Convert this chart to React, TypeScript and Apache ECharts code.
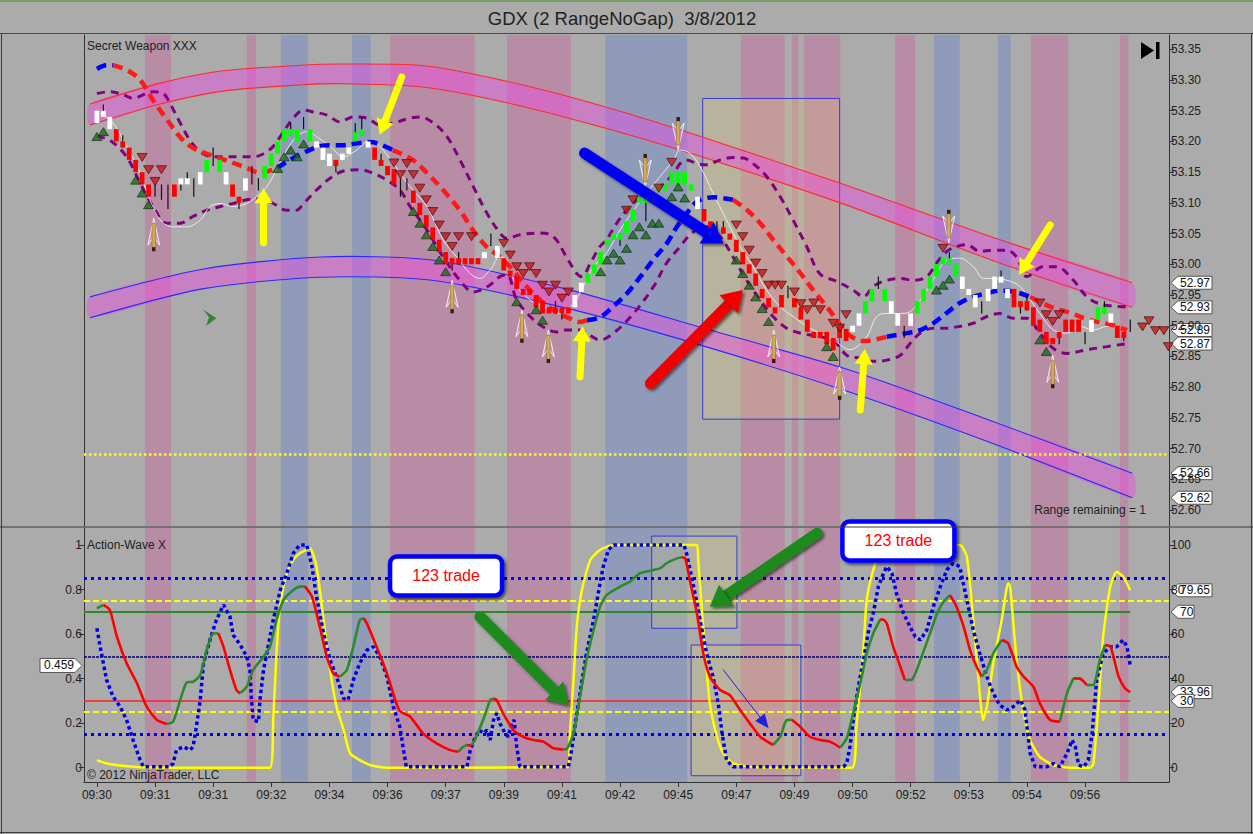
import React, { useEffect, useRef } from "react";
import * as echarts from "echarts";

const FONT = "'Liberation Sans', Arial, sans-serif";

// ---------- axes / ticks ----------
const timeLabels = ["09:30","09:31","09:31","09:32","09:34","09:36","09:37","09:39","09:41","09:42","09:45","09:47","09:49","09:50","09:52","09:53","09:54","09:56"];
const timeTickBars = [0,9,18,27,36,45,54,63,72,81,90,99,108,117,126,135,144,153];
const priceTicks = [52.6,52.65,52.7,52.75,52.8,52.85,52.9,52.95,53.0,53.05,53.1,53.15,53.2,53.25,53.3,53.35];
const waveTicks = [0,0.2,0.4,0.6,0.8,1];
const pctTicks = [0,20,40,60,80,100];

// ---------- range bars (2 RangeNoGap) ----------
const opens = [
  53.23,53.24,53.22,53.22,53.20,53.19,53.17,53.15,53.13,53.12,
  53.12,53.11,53.13,53.13,53.13,53.13,53.13,53.15,53.18,53.15,
  53.13,53.13,53.11,53.12,53.14,53.13,53.14,53.16,53.18,53.20,
  53.21,53.20,53.23,53.20,53.19,53.17,53.16,53.17,53.17,53.18,
  53.20,53.21,53.19,53.19,53.17,53.16,53.155,53.13,53.13,53.12,
  53.10,53.08,53.06,53.04,53.02,53.01,53.01,53.01,53.01,53.01,
  53.01,53.04,53.01,53.01,52.99,52.98,52.96,52.96,52.95,52.94,
  52.93,52.93,52.93,52.93,52.93,52.955,52.97,52.985,53.00,53.03,
  53.04,53.04,53.05,53.07,53.10,53.10,53.10,53.12,53.12,53.13,
  53.13,53.13,53.12,53.09,53.09,53.07,53.06,53.06,53.05,53.04,
  53.02,53.00,52.985,52.96,52.945,52.93,52.95,52.955,52.945,52.93,
  52.91,52.89,52.89,52.89,52.88,52.90,52.895,52.89,52.90,52.92,
  52.94,52.97,52.94,52.92,52.90,52.89,52.90,52.92,52.94,52.96,
  52.98,53.00,53.00,52.98,52.96,52.95,52.93,52.935,52.94,52.96,
  52.97,52.945,52.96,52.94,52.94,52.93,52.91,52.89,52.88,52.89,
  52.91,52.91,52.91,52.88,52.89,52.91,52.92,52.905,52.90,52.89,52.90,
];
const closes = [
  53.25,53.25,53.24,53.20,53.19,53.17,53.15,53.13,53.11,53.12,
  53.12,53.11,53.11,53.14,53.14,53.13,53.15,53.17,53.18,53.17,
  53.15,53.11,53.10,53.14,53.14,53.13,53.16,53.18,53.20,53.22,
  53.22,53.22,53.23,53.22,53.20,53.19,53.18,53.16,53.18,53.19,
  53.215,53.22,53.20,53.17,53.16,53.145,53.13,53.13,53.13,53.10,
  53.08,53.06,53.04,53.02,53.00,53.00,53.00,53.00,53.00,53.00,
  53.02,53.04,53.03,52.99,52.98,52.96,52.95,52.95,52.93,52.92,
  52.92,52.92,52.92,52.92,52.95,52.97,52.985,53.00,53.02,53.04,
  53.05,53.05,53.07,53.09,53.11,53.11,53.11,53.13,53.13,53.15,
  53.15,53.15,53.13,53.11,53.07,53.05,53.06,53.05,53.04,53.02,
  53.00,52.985,52.965,52.945,52.93,52.92,52.93,52.955,52.93,52.91,
  52.89,52.88,52.88,52.87,52.86,52.88,52.875,52.90,52.92,52.94,
  52.96,52.97,52.96,52.94,52.92,52.89,52.92,52.94,52.96,52.98,
  53.00,53.01,53.01,53.00,52.98,52.96,52.95,52.935,52.96,52.98,
  52.98,52.96,52.93,52.93,52.925,52.90,52.89,52.87,52.87,52.88,
  52.89,52.89,52.89,52.88,52.91,52.93,52.93,52.92,52.88,52.88,52.90,
];
// W = white up bar, G = green up bar, R = red down bar, D = doji
const barKinds = "WWWRRRRRRD DDRWWDWGDG WRRWDDGGGG GGDGWWWRWW GGWRRRRDDR RRRRRRRRRR WDWRRRRRRR RRRRWWGGGG GGGGGGGGGG GGGWRRDRRR RRRRRRRDRR RRRRRRRWWG GDGWWDWGGG GGGGWWWDWW WWRRRRRRRR RRRDWGGWRRD".replace(/\s+/g, "").split("");
// [bar, high, low] for bars with visible wicks
const wicks = [
  [1,53.26,53.24],[4,53.21,53.19],[9,53.13,53.11],[10,53.13,53.105],[11,53.13,53.09],[13,53.14,53.12],[14,53.15,53.13],
  [15,53.14,53.11],[18,53.19,53.16],[22,53.11,53.09],[24,53.16,53.13],[25,53.14,53.12],[30,53.23,53.21],[32,53.24,53.22],
  [37,53.17,53.15],[40,53.23,53.20],[41,53.24,53.21],[44,53.18,53.16],[47,53.14,53.11],[48,53.14,53.12],[55,53.01,52.99],
  [56,53.02,53.00],[61,53.05,53.03],[71,52.94,52.92],[72,52.93,52.91],[81,53.05,53.03],[85,53.11,53.07],[96,53.07,53.05],
  [97,53.07,53.05],[107,52.965,52.945],[121,52.98,52.96],[125,52.90,52.88],[132,53.02,53.00],[137,52.94,52.92],
  [140,52.99,52.97],[143,52.94,52.92],[144,52.95,52.925],[149,52.89,52.87],[153,52.89,52.87],[156,52.94,52.92],
  [159,52.89,52.875],[160,52.91,52.89],
];

// ---------- upper panel indicators ----------
// [bar, price, rising(1)/falling(0)]
const maLine = [
  [0,53.318,1],[1.5,53.324,1],[2.5,53.324,0],[4.7,53.316,0],[6.7,53.300,0],[8.7,53.267,0],[10.9,53.235,0],[12.9,53.207,0],
  [14.9,53.189,0],[17,53.180,0],[19,53.173,0],[21.1,53.165,0],[23.2,53.157,0],[25.2,53.149,0],[27.9,53.157,1],[29.9,53.170,1],
  [31.9,53.181,1],[34.1,53.191,1],[36.1,53.194,1],[38.1,53.194,1],[40.3,53.197,1],[42.3,53.199,1],[45.8,53.186,0],[48.9,53.170,0],
  [51.1,53.149,0],[53.6,53.121,0],[56.2,53.088,0],[58.2,53.056,0],[60.4,53.028,0],[62.4,53.012,0],[64.4,52.991,0],[66.6,52.963,0],
  [68.6,52.942,0],[70.6,52.926,0],[72.8,52.914,0],[74.8,52.906,0],[75.9,52.909,1],[77.9,52.914,1],[79.9,52.931,1],[82.1,52.953,1],
  [84.1,52.979,1],[86.1,53.007,1],[88.3,53.035,1],[89.8,53.061,1],[91.4,53.084,1],[92.9,53.102,1],[94.5,53.108,1],[95.6,53.109,1],
  [98.5,53.105,0],[100.7,53.088,0],[102.7,53.067,0],[104.7,53.040,0],[106.9,53.012,0],[108.9,52.986,0],[110.9,52.958,0],[113,52.931,0],
  [114.6,52.909,0],[116.1,52.888,0],[117.7,52.877,0],[118.7,52.875,0],[122.3,52.882,1],[125.4,52.888,1],[127.5,52.893,1],[129.5,52.904,1],
  [131.6,52.921,1],[133.6,52.937,1],[135.7,52.947,1],[137.8,52.953,1],[139.8,52.957,1],[141,52.957,1],[144.5,52.947,0],[147.6,52.931,0],
  [150.7,52.921,0],[153.8,52.909,0],[156.9,52.902,0],[159.5,52.893,0],
];
const upperEnvelope = [
  [0,53.278],[2,53.281],[4.1,53.276],[5.6,53.270],[7.2,53.276],[8.7,53.281],[10.3,53.278],[11.3,53.262],[12.9,53.230],[14.4,53.202],
  [16,53.183],[18,53.175],[20.1,53.175],[22.2,53.175],[24.2,53.175],[25.8,53.180],[27.3,53.192],[28.9,53.216],[30.4,53.238],[32,53.251],
  [33.5,53.248],[35.6,53.243],[37.6,53.232],[39.7,53.240],[41.8,53.238],[43.8,53.227],[45.9,53.230],[48.5,53.238],[50,53.240],[52.1,53.230],
  [54.2,53.208],[56.2,53.170],[58.3,53.126],[60.4,53.083],[62.4,53.051],[63.5,53.042],[65.5,53.048],[68.6,53.051],[70.7,53.045],[72.7,53.012],
  [74.3,52.985],[75.1,52.980],[76.4,53.002],[77.9,53.029],[78.9,53.040],[80.5,53.067],[82,53.088],[83.6,53.105],[85.1,53.116],[87.2,53.126],
  [89.3,53.148],[90.3,53.164],[91.3,53.170],[92.9,53.164],[94.4,53.162],[96.5,53.170],[98.5,53.174],[100.1,53.173],[101.6,53.164],[103.7,53.143],
  [105.8,53.110],[107.8,53.072],[109.9,53.029],[111.9,52.985],[114.6,52.972],[117.1,52.958],[118.7,52.947],[120.2,52.964],[122.3,52.974],[124.4,52.977],
  [126.4,52.974],[128.5,52.980],[130,53.002],[131.6,53.021],[133.1,53.029],[134.7,53.032],[136.7,53.021],[138.8,53.023],[140.9,53.023],[142.4,53.012],
  [144,52.980],[146.5,52.996],[148.6,52.996],[151.2,52.974],[153.3,52.947],[155.8,52.934],[159.5,52.931],
];
const lowerEnvelope = [
  [0,53.208],[2,53.202],[4.6,53.175],[6.7,53.132],[8.7,53.094],[10.8,53.067],[12.9,53.067],[14.9,53.078],[17,53.088],[19.1,53.094],
  [21.1,53.099],[23.2,53.105],[25.3,53.107],[27.3,53.099],[29.4,53.088],[30.9,53.088],[32,53.099],[34,53.121],[36.1,53.140],[38.2,53.152],
  [40.7,53.154],[42.8,53.148],[44.9,53.137],[46.9,53.121],[48.5,53.094],[51.1,53.056],[53.6,53.012],[56.2,52.974],[58.3,52.955],[60.4,52.963],
  [62.4,52.980],[63.5,52.983],[65,52.942],[67.1,52.915],[69.1,52.898],[71.2,52.890],[72.7,52.893],[74.8,52.893],[75.8,52.888],[77.9,52.877],
  [80,52.888],[83.1,52.920],[86.2,52.964],[88.2,53.002],[90.3,53.029],[91.8,53.048],[92.9,53.056],[94.4,53.061],[96.5,53.045],[98.5,53.012],
  [100.6,52.974],[102.7,52.942],[104.7,52.915],[106.8,52.896],[108.9,52.888],[112,52.882],[114,52.877],[116.1,52.852],[118.2,52.847],[120.2,52.842],
  [122.3,52.844],[124.4,52.852],[125.9,52.871],[127.5,52.888],[129.5,52.896],[131.6,52.896],[133.6,52.899],[135.7,52.904],[137.8,52.915],[139.8,52.920],
  [141.9,52.912],[144,52.912],[146,52.888],[148.1,52.863],[150.2,52.855],[153.3,52.861],[156.4,52.866],[159.5,52.871],
];
const fastLine = [
  [0.5,53.246],[2.5,53.230],[4.6,53.192],[6.7,53.148],[8.2,53.105],[9.8,53.072],[11.8,53.061],[13.9,53.061],[16,53.072],[17.5,53.094],
  [19.1,53.099],[21.1,53.094],[23.2,53.099],[24.7,53.110],[26.3,53.126],[27.8,53.154],[29.4,53.186],[30.9,53.208],[32.5,53.216],[34,53.208],
  [36.1,53.192],[38.2,53.175],[40.2,53.186],[42.3,53.202],[43.8,53.192],[45.9,53.164],[48.5,53.126],[51.1,53.094],[53.6,53.040],[55.7,53.012],
  [57.8,52.985],[59.3,52.977],[60.9,52.991],[62.4,53.012],[63.5,53.007],[65,52.964],[67.1,52.942],[69.1,52.931],[71.7,52.920],[73.8,52.937],
  [75.3,52.964],[76.9,52.996],[78.9,53.018],[81,53.056],[83.1,53.088],[85.1,53.116],[87.2,53.143],[89.3,53.170],[90.3,53.186],[91.8,53.181],
  [93.4,53.159],[95.4,53.116],[97.5,53.072],[99.6,53.029],[101.6,52.996],[103.7,52.958],[105.8,52.931],[107.8,52.915],[109.9,52.899],[111.9,52.888],
  [114,52.877],[116.6,52.861],[119.2,52.882],[120.7,52.915],[122.3,52.920],[124.4,52.920],[125.9,52.923],[127.5,52.942],[129.5,52.975],[131.6,53.007],
  [133.6,53.010],[135.7,52.996],[137.3,52.977],[138.8,52.977],[140.9,52.974],[142.9,52.964],[146,52.920],[148.1,52.893],[150.2,52.888],[152.2,52.899],
  [154.3,52.893],[156.4,52.899],[159.5,52.891],
];
const upperBandTop = [[-1.07,53.261],[9.8,53.295],[19.5,53.315],[31.4,53.324],[37.8,53.326],[50,53.324],[61.3,53.303],[74.8,53.268],[90.3,53.219],[115.1,53.132],[139.8,53.040],[160.3,52.97]];
const upperBandBottom = [[-1.07,53.227],[9.8,53.261],[19.5,53.282],[31.4,53.292],[37.8,53.294],[50,53.289],[61.3,53.268],[74.8,53.233],[90.3,53.186],[115.1,53.100],[139.8,53.002],[160.3,52.93]];
const lowerBandTop = [[-1.07,52.947],[16.3,52.992],[34.5,53.012],[51.9,53.007],[73.3,52.958],[94.9,52.893],[116.5,52.828],[138,52.747],[160.3,52.66]];
const lowerBandBottom = [[-1.07,52.913],[16.3,52.960],[34.5,52.979],[51.9,52.974],[73.3,52.927],[94.9,52.864],[116.5,52.792],[138,52.711],[160.3,52.62]];

const buyTriangles = [
  [0,53.208],[1,53.216],[6,53.137],[7,53.116],[8,53.097],[28,53.156],[29,53.175],[30,53.186],[31,53.175],[32,53.196],
  [49,53.086],[50,53.067],[51,53.048],[52,53.029],[53,53.007],[54,52.988],[65,52.939],[68,52.926],[69,52.909],[78,52.988],
  [79,53.007],[80,53.018],[81,53.007],[82,53.026],[83,53.048],[84,53.061],[85,53.048],[86,53.067],[87,53.067],[89,53.110],
  [90,53.126],[91,53.108],[99,53.007],[100,52.985],[101,52.966],[102,52.947],[103,52.928],[104,52.907],[113,52.866],[114,52.850],
  [130,52.958],[131,52.966],[132,52.976],[146,52.877],[147,52.858],
];
const sellTriangles = [
  [7,53.174],[8,53.154],[9,53.135],[10,53.154],[46,53.165],[47,53.146],[48,53.164],[49,53.146],[50,53.124],[51,53.105],
  [52,53.086],[53,53.064],[54,53.045],[55,53.029],[56,53.045],[58,53.045],[63,53.034],[64,53.015],[65,52.996],[66,52.985],
  [67,52.996],[68,52.985],[69,52.966],[70,52.955],[71,52.966],[72,52.945],[73,52.955],[82,53.088],[83,53.105],[87,53.124],
  [89,53.166],[99,53.064],[100,53.045],[101,53.023],[102,53.002],[103,52.985],[104,52.966],[105,52.966],[106,52.966],[108,52.955],
  [109,52.936],[110,52.926],[111,52.937],[112,52.926],[114,52.904],[115,52.896],[116,52.918],[131,53.026],[146,52.937],[147,52.918],
  [148,52.907],[149,52.918],[161.9,52.898],[162.9,52.908],[163.9,52.892],[165.2,52.892],[165.9,52.866],
];
// [bar, tip price, direction]
const signalArrows = [
  [8.8,53.075,1],[55,52.974,1],[65.8,52.926,1],[69.9,52.893,1],[104.8,52.893,1],[115,52.833,1],[148,52.852,1],
  [84.9,53.126,-1],[90,53.186,-1],[131.9,53.035,-1],
];
const entryMarker = [[17.5,52.913]];
const pinkStrips = [[7.45,11.47],[23.2,24.6],[45.4,58.5],[63.5,73.4],[99.7,106.5],[107.6,108.6],[109.5,115.1],[123.6,126.7],[144.6,150.4],[158.4,159.7]];
const blueStrips = [[28.5,32.7],[39.5,42.4],[78.7,91.4],[129.6,133.6],[139.5,141.5]];
const targetLine = 52.69;

// drawing objects [bar1, value1, bar2, value2]
const yellowArrows = [[25.8,53.035,25.8,53.124],[47.2,53.305,43.8,53.211],[74.8,52.817,75.2,52.899],[118.2,52.763,118.9,52.862],[147.6,53.064,142.8,52.983]];
const blueArrow = [[75.5,53.181,97.0,53.034]];
const redArrow = [[85.7,52.806,100.0,52.958]];
const greenArrows = [[59.3,0.678,73.0,0.282],[111.5,1.053,94.9,0.723]];
const smallArrow = [[97.0,0.439,104.0,0.177]];
const upperBoxes = [[93.8,53.27,115.0,52.748]];
const lowerBoxes = [[85.9,1.04,99.1,0.626],[92.0,0.551,109.0,-0.036]];
const callouts = [[54.06,0.861],[124.1,1.018]];

// ---------- lower panel ----------
const waveLine = [
  [0,0.716],[1,0.731],[2,0.708],[3.1,0.588],[4.6,0.469],[6.2,0.379],[7.7,0.274],[9.3,0.214],[10.8,0.196],[11.8,0.207],
  [12.9,0.304],[13.9,0.383],[14.9,0.386],[16,0.416],[17,0.528],[18,0.603],[18.8,0.604],[19.6,0.543],[20.6,0.439],[21.6,0.349],
  [22.2,0.334],[23.2,0.364],[24.2,0.439],[25.8,0.499],[26.8,0.543],[27.8,0.663],[28.9,0.753],[30.4,0.798],[31.4,0.813],[32.2,0.814],
  [33.3,0.768],[34.5,0.633],[35.6,0.499],[36.6,0.424],[37.6,0.409],[38.7,0.439],[39.7,0.543],[40.7,0.663],[41.3,0.671],[41.8,0.648],
  [43.3,0.543],[44.9,0.424],[46.2,0.304],[46.9,0.254],[48.5,0.229],[50.5,0.154],[52.6,0.109],[54.7,0.079],[56,0.072],[56.7,0.094],
  [57.3,0.102],[58,0.099],[58.5,0.124],[59.8,0.214],[60.9,0.304],[61.4,0.311],[61.9,0.304],[62.9,0.244],[64.5,0.169],[66,0.139],
  [67.6,0.124],[69.1,0.117],[70.7,0.087],[72.2,0.082],[72.7,0.083],[73.8,0.154],[74.8,0.319],[75.8,0.484],[76.9,0.618],[77.9,0.723],
  [78.9,0.775],[81,0.813],[82.5,0.835],[84.1,0.873],[86.2,0.888],[87.2,0.895],[88.2,0.918],[89.8,0.94],[90.6,0.945],[91.1,0.94],
  [91.8,0.843],[92.9,0.693],[93.9,0.513],[94.9,0.409],[96.5,0.349],[98,0.326],[99.6,0.259],[101.1,0.199],[102.7,0.139],[104.7,0.102],
  [105.8,0.139],[106.8,0.214],[107.6,0.215],[108.9,0.184],[110.4,0.139],[112,0.124],[113.5,0.117],[115.1,0.09],[116.1,0.132],[117.1,0.244],
  [118.2,0.379],[119.2,0.513],[120.2,0.603],[121.3,0.666],[121.8,0.665],[122.3,0.648],[123.3,0.543],[124.4,0.454],[125.1,0.394],[126.2,0.396],
  [127.5,0.484],[129,0.603],[130,0.686],[131.1,0.746],[132.1,0.775],[133.1,0.723],[134.2,0.633],[135.2,0.528],[136.2,0.454],[137,0.409],
  [137.8,0.439],[138.8,0.513],[140.1,0.573],[141.1,0.558],[142.4,0.454],[143.5,0.409],[145,0.364],[146,0.289],[147.6,0.214],[149.1,0.207],
  [150.2,0.334],[151.2,0.401],[152.2,0.4],[153.3,0.371],[154.3,0.372],[155.3,0.484],[156.1,0.551],[156.9,0.545],[157.4,0.499],[158.2,0.409],
  [159.2,0.356],[160,0.3396],
];
const dotLine = [
  [0,0.626],[0.5,0.543],[1,0.469],[1.5,0.394],[2.5,0.319],[3.6,0.274],[4.6,0.214],[5.6,0.124],[6.7,0.034],[7.2,0.004],
  [11.3,0.004],[11.8,0.019],[12.3,0.079],[13.4,0.094],[14.4,0.079],[14.9,0.094],[15.4,0.184],[16,0.304],[16.5,0.469],[17.5,0.573],
  [18.5,0.663],[19.6,0.731],[20.6,0.678],[21.1,0.596],[22.2,0.551],[23.2,0.499],[23.7,0.439],[23.9,0.319],[24.2,0.214],[25,0.207],
  [25.3,0.319],[25.8,0.439],[26.3,0.513],[27.3,0.663],[28.4,0.798],[29.4,0.873],[30.4,0.963],[31.4,1],[32.5,1],[33.3,0.903],
  [34,0.768],[35.1,0.603],[36.1,0.484],[37.1,0.409],[38.2,0.311],[38.9,0.304],[39.7,0.394],[40.7,0.469],[41.8,0.528],[42.8,0.543],
  [43.8,0.499],[44.9,0.409],[45.9,0.274],[46.9,0.184],[47.4,0.094],[47.9,0.004],[57.3,0.004],[57.8,0.079],[58.6,0.139],[59.2,0.169],
  [59.9,0.154],[60.4,0.169],[60.9,0.124],[61.4,0.214],[61.9,0.244],[62.4,0.199],[63.2,0.154],[63.7,0.139],[64.2,0.199],[64.6,0.214],
  [65,0.094],[65.5,0.004],[73,0.004],[73.5,0.079],[74,0.184],[74.8,0.334],[75.8,0.513],[76.9,0.663],[77.9,0.828],[78.4,0.903],
  [79.2,0.978],[80,1],[90.9,1],[91.3,0.963],[92.4,0.813],[93.4,0.663],[94.4,0.513],[95.4,0.409],[96.2,0.289],[96.8,0.154],
  [97.5,0.034],[98.5,0.004],[115.6,0.004],[116.1,0.019],[116.6,0.094],[117.1,0.214],[117.9,0.364],[118.7,0.484],[119.4,0.603],[120.2,0.693],
  [121,0.813],[121.8,0.873],[122.3,0.903],[123.1,0.873],[123.8,0.783],[124.9,0.693],[125.9,0.633],[126.7,0.588],[127.5,0.573],[128.5,0.618],
  [129.5,0.723],[130.6,0.813],[131.6,0.888],[132.6,0.918],[133.6,0.903],[134.7,0.753],[135.7,0.618],[136.7,0.513],[137.8,0.409],[138.8,0.334],
  [139.8,0.281],[140.9,0.259],[141.9,0.274],[143,0.304],[143.7,0.259],[144.5,0.064],[145.3,0.004],[147.1,0.004],[148.1,0.019],[149.1,0.004],
  [150.2,0.064],[151,0.124],[151.5,0.094],[152,0.012],[152.8,0.004],[153.5,0.034],[154.1,0.154],[154.8,0.394],[155.8,0.513],[156.9,0.543],
  [157.9,0.543],[158.9,0.573],[159.5,0.543],[160,0.459],
];
const stochLine = [
  [0,3.4],[1.5,1.9],[5.6,0.4],[10.8,0],[26.8,0],[27.3,21.4],[27.8,51.3],[28.4,73.8],[29.4,87.3],[30.4,93.3],
  [31.4,96.3],[33,98.5],[34,90.3],[35.1,66.3],[36.1,43.9],[37.1,27.4],[38.2,16.9],[39.2,6.4],[40.7,3.4],[42.3,1.2],
  [44.4,0.1],[46.9,0],[73,0.4],[73.2,13.9],[73.8,39.4],[74.3,63.3],[75.1,79.8],[76.4,93.3],[77.9,97.8],[80,100],
  [92.9,100],[93.1,93.3],[93.6,73.8],[94.2,51.3],[94.9,28.9],[96,13.9],[97,6.4],[98.5,1.9],[101.1,0.4],[103.7,0],
  [116.9,0],[117.6,18.4],[118.7,54.3],[119.2,75.3],[120.2,88.8],[121.3,97],[122.5,99],[130,99],[133.6,100],[134.7,94.8],
  [135.7,66.3],[136.7,33.4],[137.2,21.4],[137.8,27.4],[138.8,46.9],[140.1,66.3],[141.1,82.8],[141.4,81.3],[142.4,48.4],[143.5,24.4],
  [144.5,12.4],[146,4.9],[148.1,1.2],[150.7,0],[153.8,0],[154.3,1.9],[155.1,28.9],[155.8,58.8],[156.9,81.3],[157.9,88],
  [158.9,85.8],[160,79.65],
];
const waveLevels = { outerHi: 0.85, outerLo: 0.15, innerHi: 0.75, innerLo: 0.25, buy: 0.7, sell: 0.3, mid: 0.5 };

// ---------- helpers ----------
const PINK = "rgba(218,68,151,0.30)";
const BLUE = "rgba(78,118,218,0.30)";

function runsByFlag(pts: number[][]) {
  const segs: { flag: number; pts: number[][] }[] = [];
  let cur = [pts[0]];
  let flag = pts[0][2];
  for (let k = 1; k < pts.length; k++) {
    if (pts[k][2] === flag) cur.push(pts[k]);
    else {
      cur.push(pts[k]);
      segs.push({ flag, pts: cur });
      cur = [pts[k]];
      flag = pts[k][2];
    }
  }
  segs.push({ flag, pts: cur });
  return segs;
}
function runsByDirection(pts: number[][]) {
  const segs: { flag: number; pts: number[][] }[] = [];
  let cur = [pts[0]];
  let flag = -1;
  for (let k = 1; k < pts.length; k++) {
    const d = pts[k][1] >= pts[k - 1][1] ? 1 : 0;
    if (flag === -1 || d === flag) { cur.push(pts[k]); flag = d; }
    else { segs.push({ flag, pts: cur }); cur = [pts[k - 1], pts[k]]; flag = d; }
  }
  segs.push({ flag, pts: cur });
  return segs;
}

function arrowSeries(items: number[][], xi: number, yi: number, color: string, w: number, hl: number, hw: number, shadow: boolean) {
  return {
    type: "custom", xAxisIndex: xi, yAxisIndex: yi, z: 20, silent: true,
    data: items, encode: { x: [0, 2], y: [1, 3] },
    renderItem: (params: any, api: any) => {
      const a = api.coord([api.value(0), api.value(1)]);
      const b = api.coord([api.value(2), api.value(3)]);
      const dx = b[0] - a[0], dy = b[1] - a[1];
      const len = Math.hypot(dx, dy) || 1;
      const ux = dx / len, uy = dy / len, nx = -uy, ny = ux;
      const bx = b[0] - ux * hl, by = b[1] - uy * hl;
      const sh = shadow ? { shadowBlur: 3, shadowColor: "rgba(0,0,0,0.55)", shadowOffsetX: 2, shadowOffsetY: 2 } : {};
      return {
        type: "group",
        children: [
          { type: "line", shape: { x1: a[0], y1: a[1], x2: bx + ux, y2: by + uy }, style: { stroke: color, lineWidth: w, lineCap: "round", ...sh } },
          { type: "polygon", shape: { points: [[b[0], b[1]], [bx + nx * hw / 2, by + ny * hw / 2], [bx - nx * hw / 2, by - ny * hw / 2]] }, style: { fill: color, ...sh } },
        ],
      };
    },
  };
}

function stripSeries(xi: number, yi: number, yRef: number) {
  const data = [...pinkStrips.map((s) => [s[0], s[1], 0]), ...blueStrips.map((s) => [s[0], s[1], 1])];
  return {
    type: "custom", xAxisIndex: xi, yAxisIndex: yi, z: 0, silent: true, data, encode: { x: [0, 1] },
    renderItem: (params: any, api: any) => {
      const x1 = api.coord([api.value(0), yRef])[0];
      const x2 = api.coord([api.value(1), yRef])[0];
      const cs = params.coordSys;
      return { type: "rect", shape: { x: x1, y: cs.y, width: x2 - x1, height: cs.height }, style: { fill: api.value(2) === 0 ? PINK : BLUE } };
    },
  };
}

function boxSeries(items: number[][], xi: number, yi: number) {
  return {
    type: "custom", xAxisIndex: xi, yAxisIndex: yi, z: 1, silent: true, data: items, encode: { x: [0, 2], y: [1, 3] },
    renderItem: (params: any, api: any) => {
      const a = api.coord([api.value(0), api.value(1)]);
      const b = api.coord([api.value(2), api.value(3)]);
      return { type: "rect", shape: { x: a[0], y: a[1], width: b[0] - a[0], height: b[1] - a[1] }, style: { fill: "rgba(232,208,110,0.22)", stroke: "#3a3ad6", lineWidth: 1 } };
    },
  };
}

function bandSeries(top: number[][], bot: number[][], edge: string) {
  return {
    type: "custom", xAxisIndex: 0, yAxisIndex: 0, z: 2, silent: true, data: [[top[0][0], top[0][1]]], encode: { x: 0, y: 1 },
    renderItem: (params: any, api: any) => {
      const t = top.map((p) => api.coord(p));
      const b = bot.map((p) => api.coord(p));
      return {
        type: "group",
        children: [
          { type: "polygon", shape: { points: [...t, ...b.slice().reverse()], smooth: 0.25 }, style: { fill: "rgba(248,62,236,0.40)" } },
          { type: "polyline", shape: { points: t, smooth: 0.25 }, style: { stroke: edge, lineWidth: 1.1, fill: null } },
          { type: "polyline", shape: { points: b, smooth: 0.25 }, style: { stroke: edge, lineWidth: 1.1, fill: null } },
        ],
      };
    },
  };
}

function line(data: number[][], xi: number, yi: number, color: string, width: number, type: any, smooth: number, z: number) {
  return {
    type: "line", xAxisIndex: xi, yAxisIndex: yi, z, silent: true, showSymbol: false, symbol: "none", smooth,
    data: data.map((p) => [p[0], p[1]]),
    lineStyle: { color, width, type, cap: "butt" },
  };
}

function buildOption() {
  const candleData = opens.map((o, i) => {
    const c = closes[i];
    const w = wicks.find((k) => k[0] === i);
    return [i, o, c, w ? w[2] : Math.min(o, c), w ? w[1] : Math.max(o, c)];
  });
  const colors: any = { R: "#ff0000", W: "#ffffff", G: "#00ff00" };

  const series: any[] = [];
  series.push(stripSeries(0, 0, 53));
  series.push(stripSeries(1, 2, 0.5));
  series.push(boxSeries(upperBoxes, 0, 0));
  series.push(boxSeries(lowerBoxes, 1, 2));
  series.push(bandSeries(upperBandTop, upperBandBottom, "#ff2a2a"));
  series.push(bandSeries(lowerBandTop, lowerBandBottom, "#2a2aff"));
  series.push({
    type: "line", xAxisIndex: 0, yAxisIndex: 0, data: [], z: 3, silent: true,
    markLine: { silent: true, symbol: "none", label: { show: false }, animation: false,
      lineStyle: { color: "#ffff00", width: 2.5, type: [2.5, 2.5] }, data: [{ yAxis: targetLine }] },
  });
  series.push(line(upperEnvelope, 0, 0, "#800080", 3, [8, 6], 0.35, 4));
  series.push(line(lowerEnvelope, 0, 0, "#800080", 3, [8, 6], 0.35, 4));
  series.push(line(fastLine, 0, 0, "rgba(245,245,245,0.85)", 1, "solid", 0.35, 4));
  runsByFlag(maLine).forEach((s) => series.push(line(s.pts, 0, 0, s.flag ? "#0000ff" : "#ff1a1a", 4.5, [10, 6], 0.35, 5)));
  series.push({
    type: "custom", xAxisIndex: 0, yAxisIndex: 0, z: 6, silent: true, data: candleData, encode: { x: 0, y: [1, 2, 3, 4] },
    renderItem: (params: any, api: any) => {
      const i = api.value(0), o = api.value(1), c = api.value(2), lo = api.value(3), hi = api.value(4);
      const k = barKinds[params.dataIndex];
      const top = api.coord([i, Math.max(o, c)]);
      const bot = api.coord([i, Math.min(o, c)]);
      const hp = api.coord([i, hi]);
      const lp = api.coord([i, lo]);
      const ch: any[] = [];
      if (k === "D" || hi > Math.max(o, c) + 1e-9 || lo < Math.min(o, c) - 1e-9) {
        ch.push({ type: "line", shape: { x1: top[0], y1: hp[1], x2: top[0], y2: lp[1] }, style: { stroke: "#111", lineWidth: 1.2 } });
      }
      if (k !== "D") {
        ch.push({ type: "rect", shape: { x: top[0] - 2.4, y: top[1], width: 4.8, height: Math.max(bot[1] - top[1], 1.5) }, style: { fill: colors[k] } });
      }
      return { type: "group", children: ch };
    },
  });
  series.push({
    type: "scatter", xAxisIndex: 0, yAxisIndex: 0, z: 7, silent: true, data: buyTriangles, symbol: "triangle", symbolSize: [10, 8],
    itemStyle: { color: "#1d6b1d", borderColor: "#072a07", borderWidth: 0.8 },
  });
  series.push({
    type: "scatter", xAxisIndex: 0, yAxisIndex: 0, z: 7, silent: true, data: sellTriangles, symbol: "triangle", symbolRotate: 180, symbolSize: [10, 8],
    itemStyle: { color: "#c81818", borderColor: "#3a0606", borderWidth: 0.8 },
  });
  series.push({
    type: "custom", xAxisIndex: 0, yAxisIndex: 0, z: 8, silent: true, data: signalArrows, encode: { x: 0, y: 1 },
    renderItem: (params: any, api: any) => {
      const p = api.coord([api.value(0), api.value(1)]);
      const s = api.value(2) > 0 ? 1 : -1;
      const x = p[0], t = p[1];
      const Y = (d: number) => t + s * d;
      return {
        type: "group",
        children: [
          { type: "polygon", shape: { points: [[x, Y(0)], [x + 6, Y(27)], [x, Y(19)], [x - 6, Y(27)]] }, style: { fill: "rgba(255,255,255,0.18)", stroke: "#f4f4f4", lineWidth: 0.9 } },
          { type: "rect", shape: { x: x - 1.7, y: Math.min(Y(5), Y(29)), width: 3.4, height: 24 }, style: { fill: "#d2aa58", stroke: "#8a6420", lineWidth: 0.5 } },
          { type: "rect", shape: { x: x - 1.7, y: Math.min(Y(29), Y(33)), width: 3.4, height: 4 }, style: { fill: "#2b2010" } },
        ],
      };
    },
  });
  series.push({
    type: "scatter", xAxisIndex: 0, yAxisIndex: 0, z: 8, silent: true, data: entryMarker,
    symbol: "path://M0,0 L14,9 L3,17 L6,8 Z", symbolSize: [13, 16], itemStyle: { color: "#167816" },
  });
  series.push(arrowSeries(yellowArrows, 0, 0, "#ffff00", 7, 15, 18, false));
  series.push(arrowSeries(blueArrow, 0, 0, "#0000f0", 11, 20, 26, true));
  series.push(arrowSeries(redArrow, 0, 0, "#f00000", 11, 20, 26, true));

  // lower panel
  const lv = waveLevels;
  const mlH = (v: number, color: string, width: number, type: any, to?: number) =>
    to === undefined
      ? { yAxis: v, lineStyle: { color, width, type } }
      : [{ coord: [-2, v], lineStyle: { color, width, type } }, { coord: [to, v] }];
  series.push({
    type: "line", xAxisIndex: 1, yAxisIndex: 2, data: [], z: 3, silent: true,
    markLine: {
      silent: true, symbol: "none", label: { show: false }, animation: false,
      data: [
        mlH(lv.outerHi, "#0000e0", 3, [3, 4]),
        mlH(lv.outerLo, "#0000e0", 3, [3, 4]),
        mlH(lv.innerHi, "#ffff00", 2, [6, 3]),
        mlH(lv.innerLo, "#ffff00", 2, [6, 3]),
        mlH(lv.mid, "#000070", 1.5, [3, 1]),
        mlH(lv.buy, "#2a8a2a", 2, "solid", 160),
        mlH(lv.sell, "#ff2020", 1.5, "solid", 160),
      ],
    },
  });
  series.push(line(stochLine, 1, 3, "#ffff00", 2.5, "solid", 0.2, 5));
  series.push(line(dotLine, 1, 2, "#0000e6", 3.5, [3.5, 3], 0, 5));
  runsByDirection(waveLine).forEach((s) => series.push(line(s.pts, 1, 2, s.flag ? "#2b8a2b" : "#ff0000", 2.6, "solid", 0.2, 6)));
  series.push(arrowSeries(greenArrows, 1, 2, "#1f8a1f", 11, 20, 26, true));
  series.push(arrowSeries(smallArrow, 1, 2, "#2020e0", 1, 14, 12, false));
  series.push({
    type: "custom", xAxisIndex: 1, yAxisIndex: 2, z: 22, silent: true, data: callouts, encode: { x: 0, y: 1 },
    renderItem: (params: any, api: any) => {
      const p = api.coord([api.value(0), api.value(1)]);
      const w = 112, h = 39;
      return {
        type: "group",
        children: [
          { type: "rect", shape: { x: p[0] - w / 2, y: p[1] - h / 2, width: w, height: h, r: 7 },
            style: { fill: "#ffffff", stroke: "#0000ff", lineWidth: 4.5, shadowBlur: 3, shadowColor: "rgba(0,0,0,0.6)", shadowOffsetX: 2, shadowOffsetY: 2 } },
          { type: "text", x: p[0], y: p[1], style: { text: "123 trade", fill: "#ff0000", font: `16px ${FONT}`, align: "center", verticalAlign: "middle" } },
        ],
      };
    },
  });

  const axisText = { color: "#222", fontSize: 12, fontFamily: FONT };
  const yLine = { show: true, onZero: false, lineStyle: { color: "#333" } };
  return {
    animation: false,
    backgroundColor: "#ababab",
    grid: [
      { left: 84, right: 84, top: 35, height: 491 },
      { left: 84, right: 84, top: 528, height: 254 },
    ],
    xAxis: [
      { type: "value", gridIndex: 0, min: -2, max: 166, show: false },
      {
        type: "value", gridIndex: 1, min: -2, max: 166,
        axisLine: { show: true, onZero: false, lineStyle: { color: "#333" } },
        axisTick: { show: true, customValues: timeTickBars, length: 5, lineStyle: { color: "#333" } },
        axisLabel: { ...axisText, customValues: timeTickBars, margin: 7, formatter: (v: number) => timeLabels[timeTickBars.indexOf(Math.round(v))] || "" },
        splitLine: { show: false },
      },
    ],
    yAxis: [
      {
        type: "value", gridIndex: 0, position: "right", min: 52.574, max: 53.3733,
        axisLine: yLine,
        axisTick: { show: true, customValues: priceTicks, length: 5, lineStyle: { color: "#333" } },
        axisLabel: { ...axisText, customValues: priceTicks, margin: 2, formatter: (v: number) => v.toFixed(2) },
        splitLine: { show: false },
      },
      {
        type: "value", gridIndex: 0, position: "left", min: 52.574, max: 53.3733,
        axisLine: yLine, axisTick: { show: false }, axisLabel: { show: false }, splitLine: { show: false },
      },
      {
        type: "value", gridIndex: 1, position: "left", min: -0.0642, max: 1.0763,
        axisLine: yLine,
        axisTick: { show: true, customValues: waveTicks, length: 5, lineStyle: { color: "#333" } },
        axisLabel: { ...axisText, customValues: waveTicks, margin: 2, formatter: (v: number) => String(v) },
        splitLine: { show: false },
      },
      {
        type: "value", gridIndex: 1, position: "right", min: -6.42, max: 107.63,
        axisLine: yLine,
        axisTick: { show: true, customValues: pctTicks, length: 5, lineStyle: { color: "#333" } },
        axisLabel: { ...axisText, customValues: pctTicks, margin: 2, formatter: (v: number) => String(v) },
        splitLine: { show: false },
      },
    ],
    series,
  };
}

function rightTag(y: number, text: string) {
  const x0 = 1171;
  const w = text.length > 2 ? 41 : 23;
  return {
    type: "group", z: 100,
    children: [
      { type: "polygon", shape: { points: [[x0, y], [x0 + 7, y - 6.5], [x0 + w, y - 6.5], [x0 + w, y + 6.5], [x0 + 7, y + 6.5]] }, style: { fill: "#ffffff", stroke: "#555", lineWidth: 1 } },
      { type: "text", x: x0 + 9, y, style: { text, fill: "#111", font: `12px ${FONT}`, verticalAlign: "middle", align: "left" } },
    ],
  };
}
function leftTag(y: number, text: string) {
  const x1 = 82;
  return {
    type: "group", z: 100,
    children: [
      { type: "polygon", shape: { points: [[x1, y], [x1 - 7, y - 7], [40, y - 7], [40, y + 7], [x1 - 7, y + 7]] }, style: { fill: "#ffffff", stroke: "#555", lineWidth: 1 } },
      { type: "text", x: 44, y, style: { text, fill: "#111", font: `12px ${FONT}`, verticalAlign: "middle", align: "left" } },
    ],
  };
}

function buildGraphics(py: (ax: number, v: number) => number) {
  const txt = (x: number, y: number, text: string, size: number, align = "left") => ({
    type: "text", x, y, z: 90, style: { text, fill: "#222", font: `${size}px ${FONT}`, verticalAlign: "middle", align },
  });
  const ln = (x1: number, y1: number, x2: number, y2: number, stroke: string) => ({
    type: "line", z: 95, shape: { x1, y1, x2, y2 }, style: { stroke, lineWidth: 1 },
  });
  const last = (arr: number[][]) => arr[arr.length - 1][1];
  const g: any[] = [
    { type: "rect", z: 95, shape: { x: 0, y: 0, width: 1253, height: 2 }, style: { fill: "#74a064" } },
    txt(622, 18, "GDX (2 RangeNoGap)  3/8/2012", 18.5, "center"),
    ln(0, 33.5, 1253, 33.5, "#4a4a4a"),
    ln(0, 527, 1253, 527, "#3a3a3a"),
    ln(1.5, 33, 1.5, 834, "#3a3a3a"),
    ln(1251.5, 33, 1251.5, 834, "#3a3a3a"),
    ln(0, 832.5, 1253, 832.5, "#3a3a3a"),
    txt(87, 46, "Secret Weapon XXX", 12),
    txt(87, 545, "Action-Wave X", 12),
    txt(87, 775, "\u00a9 2012 NinjaTrader, LLC", 12),
    txt(1146, 510, "Range remaining = 1", 12, "right"),
    { type: "polygon", z: 95, shape: { points: [[1141, 42], [1141, 59], [1154, 50.5]] }, style: { fill: "#000" } },
    { type: "rect", z: 95, shape: { x: 1156, y: 42, width: 3.5, height: 17 }, style: { fill: "#000" } },
    rightTag(py(0, last(upperBandTop)), last(upperBandTop).toFixed(2)),
    rightTag(py(0, last(upperBandBottom)), last(upperBandBottom).toFixed(2)),
    rightTag(py(0, last(maLine)), last(maLine).toFixed(2)),
    rightTag(py(0, last(lowerEnvelope)), last(lowerEnvelope).toFixed(2)),
    rightTag(py(0, last(lowerBandTop)), last(lowerBandTop).toFixed(2)),
    rightTag(py(0, last(lowerBandBottom)), last(lowerBandBottom).toFixed(2)),
    rightTag(py(3, last(stochLine)), last(stochLine).toFixed(2)),
    rightTag(py(3, waveLevels.buy * 100), String(waveLevels.buy * 100)),
    rightTag(py(3, last(waveLine) * 100), (last(waveLine) * 100).toFixed(2)),
    rightTag(py(3, waveLevels.sell * 100), String(Math.round(waveLevels.sell * 100))),
    leftTag(py(2, last(dotLine)), last(dotLine).toFixed(3)),
  ];
  return g;
}

export default function App() {
  const ref = useRef<HTMLDivElement>(null);
  useEffect(() => {
    const chart = echarts.init(ref.current!, null, { renderer: "svg" });
    chart.setOption(buildOption() as any);
    const py = (ax: number, v: number) => chart.convertToPixel({ yAxisIndex: ax } as any, v) as unknown as number;
    chart.setOption({ graphic: buildGraphics(py) } as any);
    return () => chart.dispose();
  }, []);
  return <div ref={ref} style={{ position: "fixed", left: 0, top: 0, width: 1253, height: 834 }} />;
}
